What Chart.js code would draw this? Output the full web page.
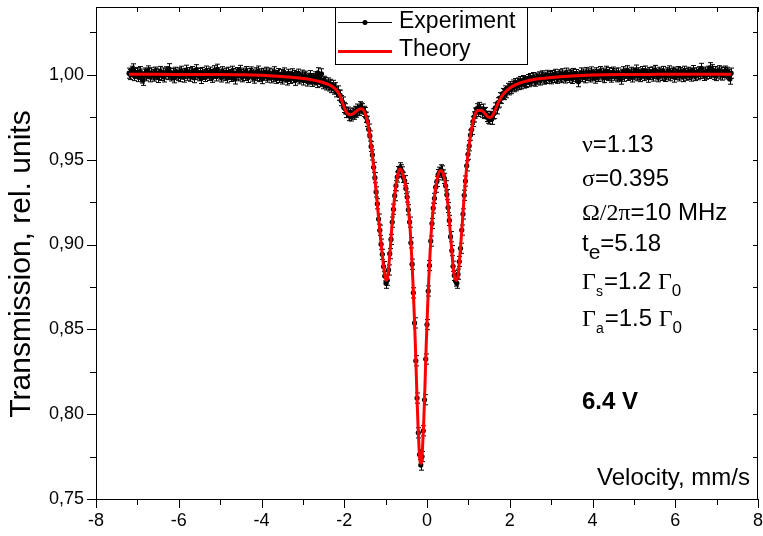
<!DOCTYPE html>
<html><head><meta charset="utf-8">
<script src="https://cdn.jsdelivr.net/npm/chart.js@4.4.1/dist/chart.umd.min.js"></script>
<style>html,body{margin:0;padding:0;background:#fff;}canvas{display:block;}</style>
</head><body>
<canvas id="c" width="763" height="536"></canvas>
<script>
// ---------- data ----------
const xTicks = [-8,-6,-4,-2,0,2,4,6,8];
const yTicks = [0.75,0.80,0.85,0.90,0.95,1.00];
// velocity calibration of the channels (mm/s): first channel and channel width
const expV0 = -7.20, expStep = 0.03;
const expT = [
1.0010,1.0002,1.0021,1.0035,0.9996,1.0008,1.0014,0.9990,1.0005,1.0019,
0.9982,0.9968,1.0004,1.0011,0.9995,1.0023,1.0007,0.9989,1.0012,1.0001,
0.9993,1.0016,1.0009,0.9985,1.0003,1.0020,0.9997,1.0011,0.9988,1.0006,
1.0018,1.0002,1.0036,1.0010,0.9994,1.0007,0.9983,1.0015,1.0004,0.9996,
1.0012,0.9990,1.0021,1.0005,0.9987,1.0009,1.0027,0.9998,1.0013,0.9992,
1.0006,1.0019,0.9984,1.0002,1.0030,1.0011,0.9995,1.0008,0.9979,1.0014,
1.0003,0.9991,1.0022,1.0007,0.9997,1.0016,1.0001,0.9986,1.0024,1.0009,
0.9994,1.0033,1.0012,1.0000,0.9988,1.0018,1.0005,0.9996,1.0010,0.9983,
1.0015,1.0002,0.9991,1.0021,1.0008,0.9976,1.0004,1.0013,0.9995,1.0026,
1.0001,0.9989,1.0010,0.9997,1.0019,1.0006,0.9985,1.0008,1.0017,0.9993,
1.0004,0.9981,1.0012,0.9996,1.0022,0.9990,1.0006,0.9978,1.0009,0.9998,
1.0015,0.9987,0.9999,1.0010,0.9983,1.0005,0.9992,1.0018,0.9980,0.9996,
1.0007,0.9985,1.0002,0.9976,0.9995,1.0011,0.9988,0.9970,1.0003,0.9991,
0.9979,1.0006,0.9984,0.9996,0.9968,0.9990,1.0004,0.9977,0.9987,0.9998,
0.9970,0.9985,0.9992,0.9964,0.9980,0.9975,0.9995,0.9962,0.9978,0.9970,
0.9988,0.9955,1.0012,0.9972,0.9960,1.0006,0.9948,0.9962,0.9955,0.9941,
0.9952,0.9935,0.9944,0.9925,0.9938,0.9916,0.9924,0.9900,0.9905,0.9880,
0.9880,0.9848,0.9840,0.9808,0.9800,0.9778,0.9780,0.9760,0.9770,0.9758,
0.9775,0.9768,0.9785,0.9780,0.9798,0.9790,0.9812,0.9805,0.9800,0.9785,
0.9778,0.9750,0.9726,0.9680,0.9640,0.9578,0.9528,0.9455,0.9394,0.9310,
0.9240,0.9150,0.9084,0.9002,0.8942,0.8870,0.8815,0.8772,0.8790,0.8850,
0.8946,0.9030,0.9132,0.9208,0.9288,0.9346,0.9398,0.9430,0.9452,0.9440,
0.9428,0.9396,0.9376,0.9330,0.9280,0.9205,0.9132,0.9010,0.8884,0.8715,
0.8538,0.8315,0.8095,0.7890,0.7762,0.7700,0.7750,0.7902,0.8085,0.8325,
0.8528,0.8726,0.8876,0.9020,0.9124,0.9215,0.9272,0.9338,0.9372,0.9412,
0.9426,0.9440,0.9434,0.9410,0.9390,0.9346,0.9294,0.9218,0.9142,0.9046,
0.8964,0.8872,0.8818,0.8785,0.8772,0.8825,0.8900,0.8978,0.9085,0.9180,
0.9290,0.9374,0.9464,0.9532,0.9582,0.9645,0.9678,0.9725,0.9752,0.9775,
0.9800,0.9785,0.9808,0.9795,0.9780,0.9798,0.9772,0.9778,0.9755,0.9745,
0.9740,0.9755,0.9738,0.9770,0.9772,0.9805,0.9800,0.9835,0.9840,0.9865,
0.9862,0.9890,0.9884,0.9905,0.9895,0.9920,0.9912,0.9930,0.9919,0.9940,
0.9930,0.9948,0.9936,0.9952,0.9943,0.9960,0.9947,0.9966,0.9952,0.9961,
0.9955,0.9972,0.9960,0.9978,0.9966,0.9984,0.9970,0.9963,0.9981,0.9975,
0.9988,0.9970,0.9982,0.9994,0.9975,0.9986,0.9979,0.9997,0.9981,0.9990,
0.9977,0.9996,0.9985,1.0003,0.9989,0.9980,1.0000,0.9992,0.9984,1.0006,
0.9993,0.9982,1.0010,0.9997,0.9986,1.0004,0.9995,0.9979,1.0008,0.9990,
1.0002,0.9985,0.9960,0.9994,1.0011,0.9990,1.0004,0.9983,1.0014,0.9997,
1.0006,0.9988,1.0017,0.9995,1.0003,0.9981,1.0012,1.0000,0.9991,1.0019,
1.0005,0.9993,1.0010,0.9984,1.0021,1.0002,0.9996,1.0013,0.9987,1.0008,
1.0016,0.9998,1.0006,0.9989,1.0011,0.9994,0.9975,1.0003,1.0018,0.9992,
1.0009,1.0024,0.9997,1.0004,1.0015,0.9988,1.0010,1.0001,1.0028,0.9995,
1.0012,1.0003,0.9990,1.0019,1.0007,0.9996,1.0022,1.0005,0.9986,1.0014,
1.0002,1.0017,0.9993,1.0009,1.0026,1.0000,0.9989,1.0015,1.0006,0.9997,
1.0020,1.0004,0.9991,1.0012,1.0001,1.0023,0.9995,1.0008,1.0016,0.9987,
1.0010,1.0002,1.0019,0.9994,1.0013,1.0005,0.9990,1.0021,1.0007,0.9998,
1.0015,1.0003,1.0011,0.9993,1.0025,1.0006,0.9996,1.0012,1.0001,1.0018,
1.0008,1.0038,1.0010,0.9997,1.0016,1.0004,1.0021,1.0009,1.0042,1.0013,
1.0030,1.0002,1.0019,0.9996,1.0011,1.0024,1.0005,1.0017,0.9999,1.0014,
1.0022,1.0006,1.0015,1.0001,0.9975,1.0010];
const expErr = 0.003;
const theoryV = [-7.20,-6.50,-5.80,-5.00,-4.40,-3.90,-3.50,-3.10,-2.80,-2.55,
-2.35,-2.22,-2.12,-2.04,-1.97,-1.90,-1.84,-1.76,-1.68,-1.60,
-1.53,-1.47,-1.42,-1.37,-1.32,-1.27,-1.22,-1.17,-1.12,-1.07,
-1.03,-0.99,-0.96,-0.93,-0.89,-0.85,-0.80,-0.75,-0.70,-0.65,
-0.60,-0.55,-0.50,-0.45,-0.41,-0.37,-0.34,-0.31,-0.28,-0.25,
-0.22,-0.19,-0.17,-0.15,-0.13,-0.11,-0.08,-0.05,-0.02,0.01,
0.04,0.07,0.11,0.15,0.20,0.25,0.30,0.35,0.40,0.45,
0.50,0.55,0.60,0.64,0.68,0.72,0.76,0.80,0.84,0.88,
0.92,0.96,1.00,1.05,1.10,1.16,1.23,1.31,1.39,1.46,
1.53,1.59,1.66,1.74,1.84,1.96,2.12,2.35,2.65,3.00,
3.50,4.00,4.80,5.60,6.50,7.35];
const theoryT = [1.0003,1.0003,1.0002,1.0002,1.0000,0.9996,0.9990,0.9982,0.9972,0.9958,
0.9940,0.9918,0.9885,0.9835,0.9790,0.9768,0.9765,0.9775,0.9792,0.9800,
0.9790,0.9755,0.9700,0.9620,0.9525,0.9415,0.9290,0.9155,0.9030,0.8915,
0.8835,0.8790,0.8795,0.8855,0.8970,0.9100,0.9240,0.9350,0.9420,0.9445,
0.9425,0.9385,0.9320,0.9210,0.9100,0.8930,0.8780,0.8600,0.8400,0.8160,
0.7950,0.7790,0.7725,0.7710,0.7725,0.7790,0.7950,0.8160,0.8400,0.8600,
0.8780,0.8930,0.9100,0.9210,0.9320,0.9390,0.9430,0.9435,0.9410,0.9350,
0.9250,0.9110,0.8960,0.8850,0.8795,0.8790,0.8840,0.8950,0.9080,0.9220,
0.9350,0.9460,0.9550,0.9640,0.9710,0.9765,0.9790,0.9790,0.9775,0.9755,
0.9748,0.9762,0.9800,0.9845,0.9885,0.9915,0.9940,0.9960,0.9975,0.9985,
0.9994,0.9999,1.0002,1.0003,1.0004,1.0004];
const seriesNames = ['Experiment','Theory'];
const axisTitleY = 'Transmission, rel. units';
const axisTitleX = 'Velocity, mm/s';

// ---------- build ----------
const SANS = '"Liberation Sans", Arial, sans-serif';
const SERIF = '"Liberation Serif", "DejaVu Serif", serif';
const expV = expT.map((_, i) => +(expV0 + i * expStep).toFixed(2));
const expData = expT.map((t, i) => ({x: expV[i], y: t}));
const thData = theoryT.map((t, i) => ({x: theoryV[i], y: t}));

const errBars = {
  id: 'errBars',
  beforeDatasetsDraw(chart) {
    const {ctx, chartArea: a, scales: {x, y}} = chart;
    ctx.save();
    ctx.beginPath(); ctx.rect(a.left, a.top, a.right - a.left, a.bottom - a.top); ctx.clip();
    ctx.strokeStyle = '#000'; ctx.lineWidth = 1;
    ctx.beginPath();
    expT.forEach((t, i) => {
      const px = Math.round(x.getPixelForValue(expV[i])) + 0.5;
      const y1 = y.getPixelForValue(t + expErr), y2 = y.getPixelForValue(t - expErr);
      ctx.moveTo(px, y1); ctx.lineTo(px, y2);
      ctx.moveTo(px - 2.5, y1); ctx.lineTo(px + 2.5, y1);
      ctx.moveTo(px - 2.5, y2); ctx.lineTo(px + 2.5, y2);
    });
    ctx.stroke();
    ctx.restore();
  }
};

function rich(ctx, x, y, parts) {
  for (const p of parts) {
    ctx.font = p[1];
    ctx.fillText(p[0], x, y + (p[2] || 0));
    x += ctx.measureText(p[0]).width + (p[3] || 0);
  }
}

const decor = {
  id: 'decor',
  afterDraw(chart) {
    const {ctx, chartArea: a, scales: {x, y}} = chart;
    ctx.save();
    ctx.strokeStyle = '#000'; ctx.lineWidth = 1;
    ctx.strokeRect(a.left + 0.5, a.top + 0.5, a.right - a.left - 1, a.bottom - a.top);
    ctx.beginPath();
    for (let v = -8; v <= 8; v += 1) {
      const px = Math.round(x.getPixelForValue(v)) + 0.5;
      const major = v % 2 === 0;
      ctx.moveTo(px, a.bottom); ctx.lineTo(px, a.bottom + (major ? 9 : 6));
      ctx.moveTo(px, a.top); ctx.lineTo(px, a.top + 5);
    }
    for (let k = 0; k <= 11; k++) {
      const v = 0.75 + k * 0.025;
      const py = Math.round(y.getPixelForValue(v)) + 0.5;
      const major = k % 2 === 0;
      ctx.moveTo(a.left, py); ctx.lineTo(a.left - (major ? 9 : 6), py);
      ctx.moveTo(a.right, py); ctx.lineTo(a.right - 5, py);
    }
    ctx.stroke();

    // y axis title
    ctx.save();
    ctx.translate(22, 264);
    ctx.rotate(-Math.PI / 2);
    ctx.fillStyle = '#000';
    ctx.font = '30px ' + SANS;
    ctx.textAlign = 'center'; ctx.textBaseline = 'middle';
    ctx.fillText(axisTitleY, 0, 0);
    ctx.restore();

    // legend box
    const lx = 335, ly = a.top, lw = 192, lh = 57;
    ctx.fillStyle = '#fff';
    ctx.fillRect(lx, ly, lw, lh);
    ctx.strokeRect(lx + 0.5, ly + 0.5, lw, lh);
    ctx.beginPath(); ctx.moveTo(338, 22.5); ctx.lineTo(392, 22.5); ctx.stroke();
    ctx.fillStyle = '#000';
    ctx.beginPath(); ctx.arc(365, 22.5, 2.5, 0, Math.PI * 2); ctx.fill();
    ctx.strokeStyle = '#ff0000'; ctx.lineWidth = 3;
    ctx.beginPath(); ctx.moveTo(338, 51.5); ctx.lineTo(392, 51.5); ctx.stroke();
    ctx.fillStyle = '#000';
    ctx.textBaseline = 'middle'; ctx.textAlign = 'left';
    ctx.font = '23px ' + SANS;
    ctx.fillText(seriesNames[0], 399, 22);
    ctx.fillText(seriesNames[1], 399, 50);

    // annotations
    ctx.textBaseline = 'alphabetic';
    const f = '24px ' + SANS, g = '24px ' + SERIF;
    const ax = 582;
    rich(ctx, ax, 152, [['\u03BD', g], ['=1.13', f]]);
    rich(ctx, ax, 186, [['\u03C3', g], ['=0.395', f]]);
    rich(ctx, ax, 220, [['\u03A9/2\u03C0', g], ['=10 MHz', f]]);
    rich(ctx, ax, 251, [['t', f], ['e', '21px ' + SANS, 8], ['=5.18', f]]);
    rich(ctx, ax, 289, [['\u0393', g], ['s', '14px ' + SANS, 7, 1], ['=1.2 ', f], ['\u0393', g], ['0', '17px ' + SANS, 7]]);
    rich(ctx, ax, 326, [['\u0393', g], ['a', '14px ' + SANS, 7, 1], ['=1.5 ', f], ['\u0393', g], ['0', '17px ' + SANS, 7]]);
    ctx.font = 'bold 24px ' + SANS;
    ctx.fillText('6.4 V', ax, 409);
    ctx.font = '24px ' + SANS;
    ctx.textAlign = 'right';
    ctx.fillText(axisTitleX, 750, 485);
    ctx.restore();
  }
};

new Chart(document.getElementById('c'), {
  type: 'line',
  data: {
    datasets: [
      {label: seriesNames[0], data: expData, borderColor: '#000', borderWidth: 1,
       pointRadius: 2.6, pointBackgroundColor: '#000', pointBorderWidth: 0, pointHoverRadius: 0,
       tension: 0, order: 2},
      {label: seriesNames[1], data: thData, borderColor: '#ff0000', borderWidth: 3,
       pointRadius: 0, cubicInterpolationMode: 'monotone', order: 1}
    ]
  },
  options: {
    responsive: false, animation: false, devicePixelRatio: 1, events: [],
    layout: {padding: {left: 0, right: 5, top: 7, bottom: 0}},
    plugins: {legend: {display: false}, tooltip: {enabled: false}},
    scales: {
      x: {
        type: 'linear', min: -8, max: 8,
        grid: {display: false, drawTicks: false}, border: {display: false},
        ticks: {color: '#000', padding: 11, font: {family: SANS, size: 18}, maxRotation: 0},
        afterBuildTicks: s => { s.ticks = xTicks.map(v => ({value: v})); },
        afterFit: s => { s.height = 37; s.paddingLeft = 0; s.paddingRight = 0; }
      },
      y: {
        type: 'linear', min: 0.75, max: 1.04,
        grid: {display: false, drawTicks: false}, border: {display: false},
        ticks: {color: '#000', padding: 12, font: {family: SANS, size: 18},
                callback: v => v.toFixed(2).replace('.', ',')},
        afterBuildTicks: s => { s.ticks = yTicks.map(v => ({value: v})); },
        afterFit: s => { s.width = 96; s.paddingTop = 0; s.paddingBottom = 0; }
      }
    }
  },
  plugins: [errBars, decor]
});
</script>
</body></html>
